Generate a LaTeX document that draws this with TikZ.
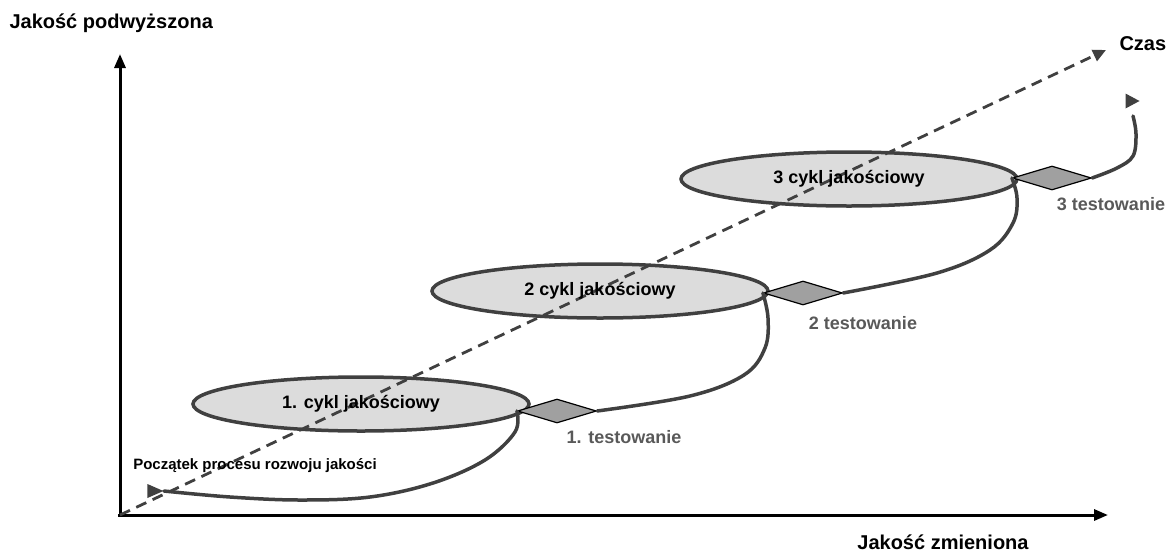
\documentclass[tikz,border=0pt]{standalone}
\usepackage{fontspec}
\setmainfont{Liberation Sans}
\usetikzlibrary{shapes.geometric,arrows.meta}
\definecolor{dk}{HTML}{404040}
\definecolor{ellfill}{HTML}{DCDCDC}
\definecolor{dmfill}{HTML}{A0A0A0}
\definecolor{lbl}{HTML}{595959}
\tikzset{
  axis/.style={line width=3pt,black,-{Triangle[width=11pt,length=14pt]}},
  cyc/.style={ellipse,draw=dk,fill=ellfill,line width=3.5pt,minimum width=336pt,minimum height=54pt,inner sep=0pt},
  cyctext/.style={font=\bfseries\fontsize{18}{20}\selectfont,text=black},
  dm/.style={diamond,draw=black,fill=dmfill,line width=1.2pt,aspect=3.3,minimum width=79pt,minimum height=24pt,inner sep=0pt},
  tlbl/.style={font=\bfseries\fontsize{18}{20}\selectfont,text=lbl},
  axlbl/.style={font=\bfseries\fontsize{20}{24}\selectfont,text=black},
  loopline/.style={draw=dk,line width=3.5pt,line cap=round,line join=round},
  tri/.style={isosceles triangle,isosceles triangle stretches,fill=dk,draw=none,minimum width=14pt,minimum height=16pt,inner sep=0pt},
  timeline/.style={draw=dk,line width=2.8pt,dash pattern=on 11pt off 7pt,-{Triangle[width=12pt,length=13pt]}}
}
\begin{document}
\begin{tikzpicture}[x=1pt,y=-1pt]
\useasboundingbox (0,0) rectangle (1170,555);
% axes
\coordinate (o) at (120,515);
\coordinate (ytip) at (120,54);
\coordinate (xtip) at (1108,515);
\draw[axis] (120,517) -- (ytip);
\draw[axis] (118,515) -- (xtip);
\node[axlbl,anchor=west] (ylab) at (6,23) {Jakość podwyższona};
\node[axlbl] (xlab) at (943,542) {Jakość zmieniona};
\node[axlbl,anchor=west] (czas) at (1116,44) {Czas};
% cycles
\node[cyc] (e1) at (361,404) {};
\node[cyc] (e2) at (600,291) {};
\node[cyc] (e3) at (849,179) {};
% diamonds
\node[dm] (d1) at (557,411) {};
\node[dm] (d2) at (803,293) {};
\node[dm] (d3) at (1052,178) {};
% start / end markers
\node[tri] (s) at (152,491) {};
\node[tri,minimum width=15pt,minimum height=14pt] (en) at (1130,101) {};
\coordinate (lend) at (1133,116);
% loops
\draw[loopline] plot[smooth,tension=0.6] coordinates {(s.east) (230,497) (300,500) (370,497) (433,483) (485,460) (515,432) (d1.west)};
\draw[loopline] plot[smooth,tension=0.6] coordinates {(d1.east) (690,396) (744,375) (765,348) (768,318) (d2.west)};
\draw[loopline] plot[smooth,tension=0.6] coordinates {(d2.east) (937,273) (990,250) (1013,223) (1017,198) (d3.west)};
\draw[loopline] plot[smooth,tension=0.6] coordinates {(d3.east) (1117,168) (1133,156) (1136,134) (lend)};
% time line
\draw[timeline] (o) -- (1106,50);
% texts
\node[cyctext] (t1) at (e1) {1. cykl jakościowy};
\node[cyctext] (t2) at (e2) {2 cykl jakościowy};
\node[cyctext] (t3) at (e3) {3 cykl jakościowy};
\node[tlbl] (l1) at (624,437) {1. testowanie};
\node[tlbl] (l2) at (863,323) {2 testowanie};
\node[tlbl] (l3) at (1111,204) {3 testowanie};
\node[font=\bfseries\fontsize{15}{18}\selectfont,text=black] (start) at (255,466) {Początek procesu rozwoju jakości};
\end{tikzpicture}
\end{document}
